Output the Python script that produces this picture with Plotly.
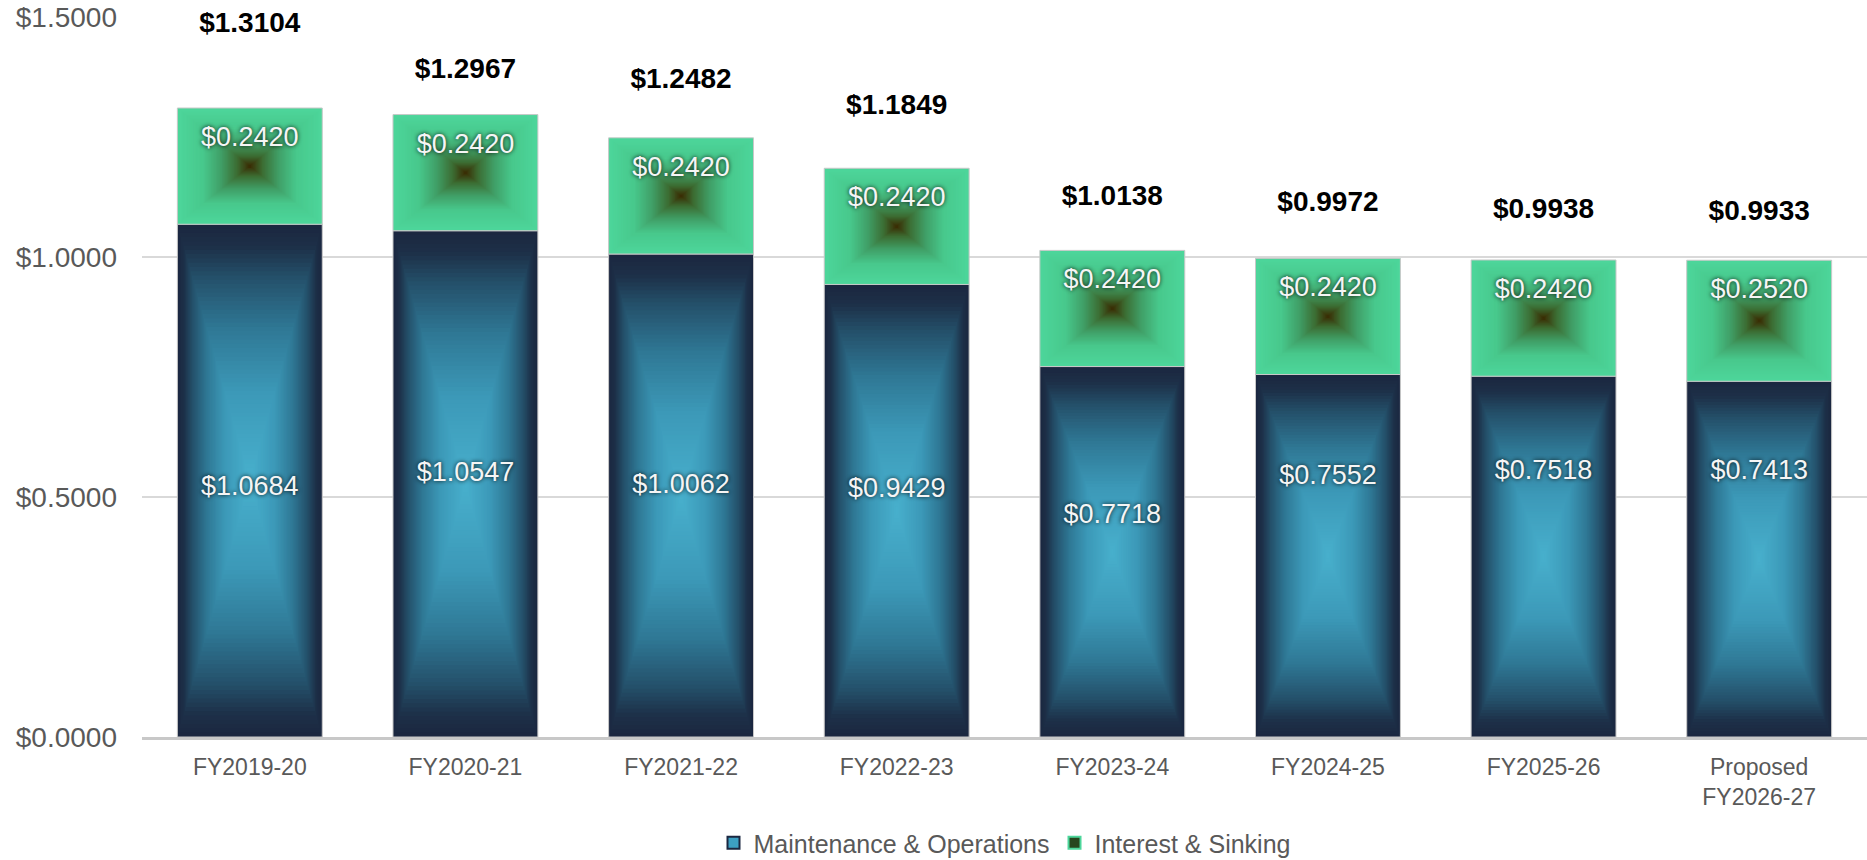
import plotly.graph_objects as go

# ---------------- data ----------------
categories = ["FY2019-20", "FY2020-21", "FY2021-22", "FY2022-23",
              "FY2023-24", "FY2024-25", "FY2025-26", "Proposed<br>FY2026-27"]
mo_values = [1.0684, 1.0547, 1.0062, 0.9429, 0.7718, 0.7552, 0.7518, 0.7413]
is_values = [0.2420, 0.2420, 0.2420, 0.2420, 0.2420, 0.2420, 0.2420, 0.2520]
series_names = ["Maintenance & Operations", "Interest & Sinking"]

# label placement (offsets in axis units)
mo_label_shift = [-0.017, 0.021, 0.020, 0.042, 0.074, 0.163, 0.175, 0.180]
total_label_gap = [0.174, 0.090, 0.119, 0.127, 0.110, 0.114, 0.102, 0.099]
is_label_drop = 0.065

# ---------------- style ----------------
FONT = "Liberation Sans, Arial, sans-serif"
BAR_W = 0.672
N_LAYERS = 60
mo_stops = [(0.0, (27, 39, 64)), (0.08, (29, 48, 72)), (0.2, (36, 80, 106)),
            (0.4, (47, 120, 149)), (0.65, (60, 153, 184)), (1.0, (72, 176, 205))]
is_stops = [(0.0, (77, 214, 155)), (0.35, (72, 200, 140)), (0.6, (64, 158, 102)),
            (0.82, (60, 108, 50)), (1.0, (58, 40, 0))]


def scale_color(stops, t):
    for (t0, c0), (t1, c1) in zip(stops[:-1], stops[1:]):
        if t <= t1:
            f = (t - t0) / (t1 - t0) if t1 > t0 else 0
            c = [round(a + (b - a) * f) for a, b in zip(c0, c1)]
            return "rgb(%d,%d,%d)" % tuple(c)
    return "rgb(%d,%d,%d)" % stops[-1][1]


totals = [m + i for m, i in zip(mo_values, is_values)]
fig = go.Figure()

# path-gradient bars built from concentric overlaid bars
segments = [
    ([0.0] * len(mo_values), mo_values, mo_stops),
    (mo_values, is_values, is_stops),
]
for seg_base, seg_h, stops in segments:
    for k in range(N_LAYERS):
        t = k / N_LAYERS
        bases = [b + t * h / 2 for b, h in zip(seg_base, seg_h)]
        heights = [h * (1 - t) for h in seg_h]
        fig.add_trace(go.Bar(
            x=categories, y=heights, base=bases, width=BAR_W * (1 - t),
            marker=dict(color=scale_color(stops, t),
                        line=dict(width=1 if k == 0 else 0, color="#C8C8C8")),
            showlegend=False, hoverinfo="skip"))

# legend entries
fig.add_trace(go.Bar(x=[categories[0]], y=[None], name=series_names[0],
                     marker=dict(color="rgb(60,160,195)", line=dict(color="rgb(27,39,64)", width=2))))
fig.add_trace(go.Bar(x=[categories[0]], y=[None], name=series_names[1],
                     marker=dict(color="rgb(40,70,30)", line=dict(color="rgb(77,214,155)", width=2))))

label_font = dict(family=FONT, size=27, color="#F5F5F5",
                  shadow="0px 0px 4px rgba(0,0,0,0.9)")

# M&O labels
fig.add_trace(go.Scatter(
    x=categories, y=[v / 2 + s for v, s in zip(mo_values, mo_label_shift)],
    mode="text", text=["$%.4f" % v for v in mo_values],
    textfont=label_font, showlegend=False, hoverinfo="skip"))
# I&S labels
fig.add_trace(go.Scatter(
    x=categories, y=[t - is_label_drop for t in totals],
    mode="text", text=["$%.4f" % v for v in is_values],
    textfont=label_font, showlegend=False, hoverinfo="skip"))
# totals
fig.add_trace(go.Scatter(
    x=categories, y=[t + g for t, g in zip(totals, total_label_gap)],
    mode="text", text=["<b>$%.4f</b>" % v for v in totals],
    textfont=dict(family=FONT, size=28, color="#000000"),
    showlegend=False, hoverinfo="skip", cliponaxis=False))

fig.update_layout(
    width=1867, height=860,
    margin=dict(l=142, r=0, t=17, b=123),
    barmode="overlay",
    plot_bgcolor="white", paper_bgcolor="white",
    font=dict(family=FONT, color="#595959"),
    legend=dict(orientation="h", x=0.5, xanchor="center",
                yref="container", y=17 / 860, yanchor="middle",
                font=dict(family=FONT, size=25, color="#595959"),
                traceorder="normal", itemwidth=30, tracegroupgap=0),
    xaxis=dict(type="category", range=[-0.5, 7.5], showgrid=False,
               showline=True, linecolor="#C8C8C8", linewidth=2.5,
               ticks="", tickfont=dict(size=23, color="#595959"),
               ticklabelstandoff=8),
    yaxis=dict(range=[0, 1.5], dtick=0.5, tickprefix="$", tickformat=".4f",
               showgrid=True, gridcolor="#D9D9D9", gridwidth=1.5,
               zeroline=False, showline=False, ticks="",
               tickfont=dict(size=28, color="#595959"),
               ticklabelstandoff=24),
)

fig.write_html("out.html", config={"displayModeBar": False},
               post_script="document.body.style.margin='0';")
